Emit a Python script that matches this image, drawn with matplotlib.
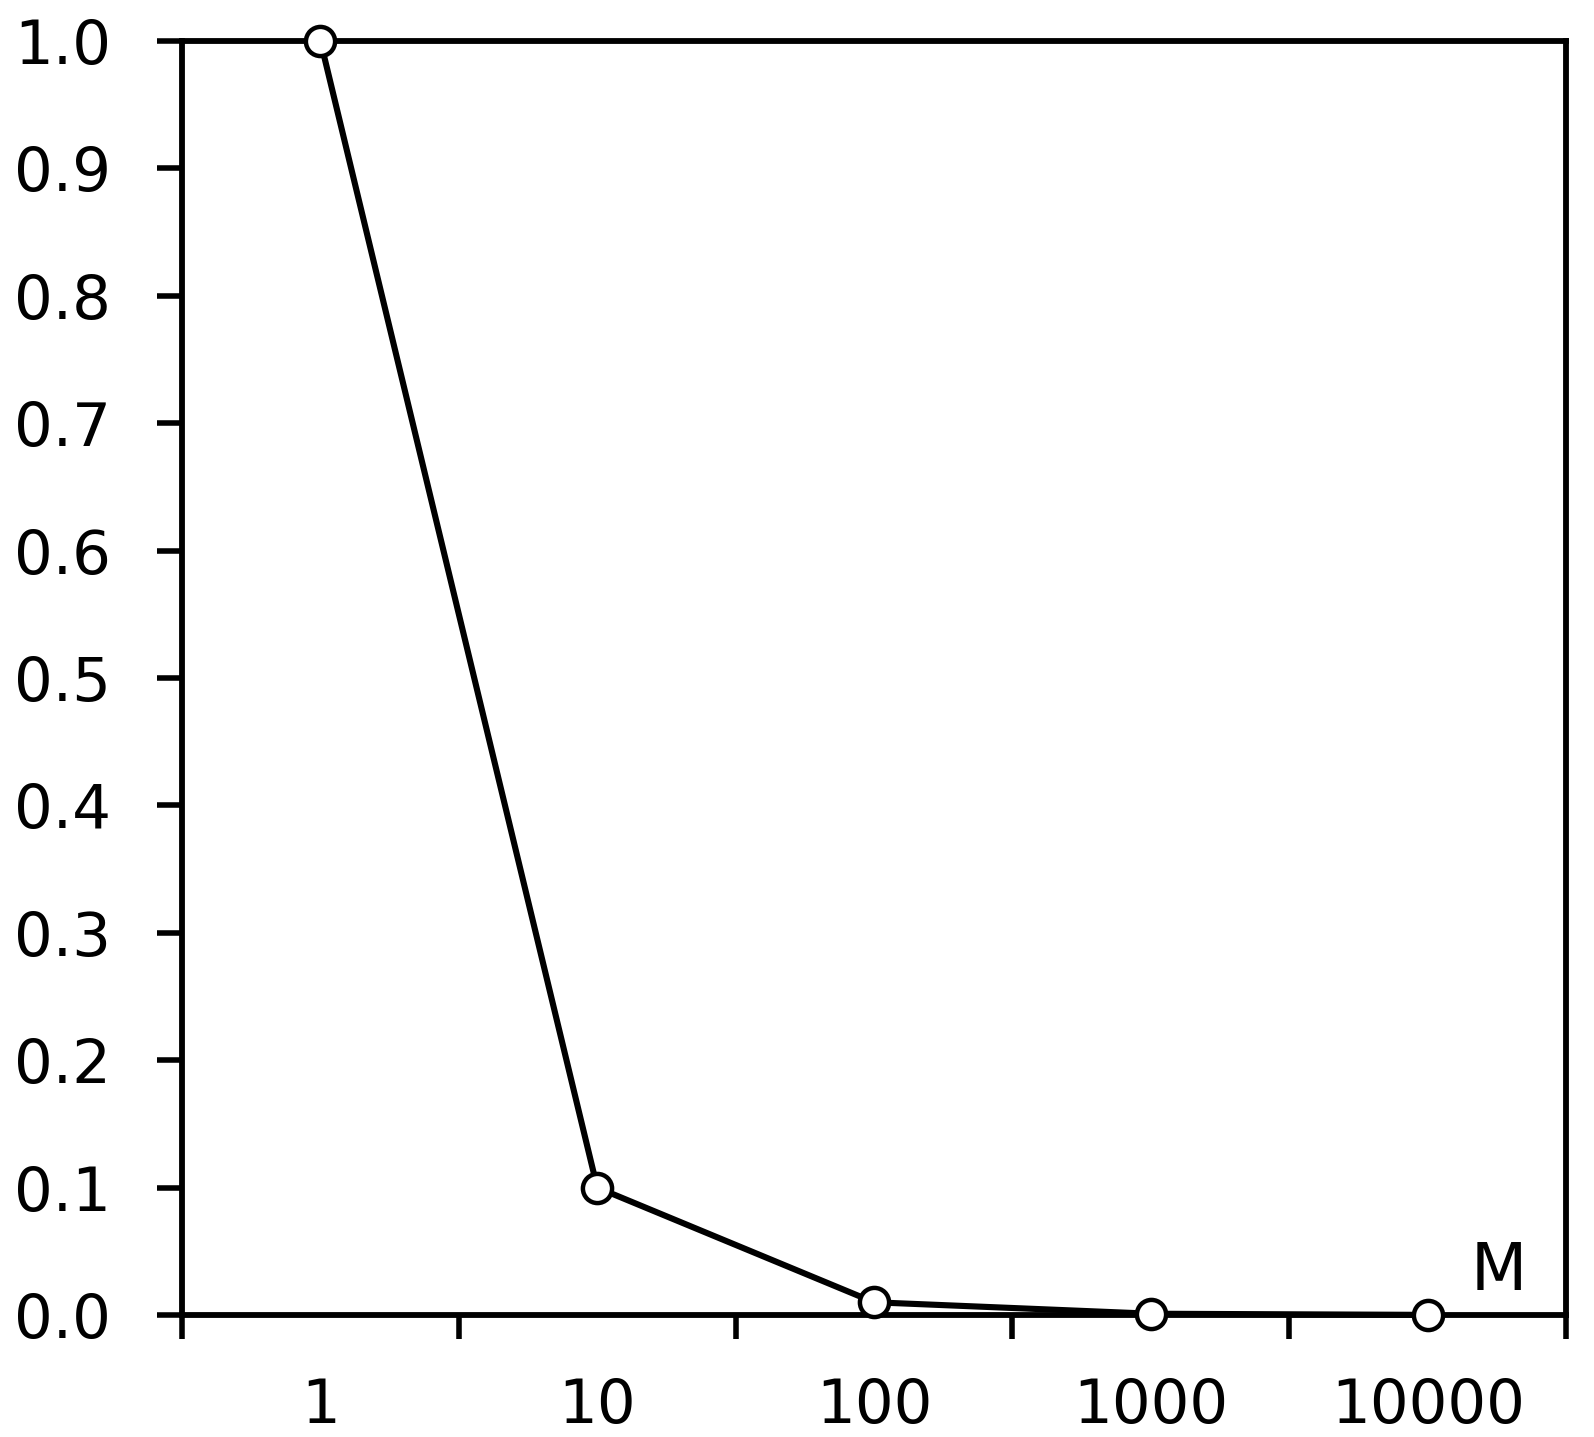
import numpy as np
from matplotlib import pyplot as plt
from matplotlib.ticker import FixedLocator, NullFormatter, FixedFormatter

##### Data #####
M_labels = ["1", "10", "100", "1000", "10000"]
values = [1.0, 0.1, 0.01, 0.001, 0.0001]
y_ticks = [0.0, 0.1, 0.2, 0.3, 0.4, 0.5, 0.6, 0.7, 0.8, 0.9, 1.0]

plt.rcParams['font.family'] = ['DejaVu Sans']

fig = plt.figure(figsize=(15.94, 14.37), dpi=100)
ax = fig.add_axes([0.1142, 0.0849, 0.9825 - 0.1142, 0.9715 - 0.0849])

x = np.arange(len(M_labels))
ax.plot(x, values, color="black", lw=4.4, marker="o", ms=21,
        mfc="white", mec="black", mew=3.2, clip_on=False, zorder=5)

ax.set_xlim(-0.5, len(M_labels) - 0.5)
ax.set_ylim(0, 1.0)

# category boundaries as major ticks, labels on minor ticks
ax.xaxis.set_major_locator(FixedLocator(np.arange(-0.5, len(M_labels), 1.0)))
ax.xaxis.set_major_formatter(NullFormatter())
ax.xaxis.set_minor_locator(FixedLocator(x))
ax.xaxis.set_minor_formatter(FixedFormatter(M_labels))
ax.tick_params(axis="x", which="major", direction="out", length=17, width=4.0)
ax.tick_params(axis="x", which="minor", length=0, pad=45, labelsize=44)

ax.set_yticks(y_ticks)
ax.set_yticklabels([f"{v:.1f}" for v in y_ticks])
ax.tick_params(axis="y", direction="out", length=18, width=4.0, pad=33, labelsize=44)

for s in ax.spines.values():
    s.set_linewidth(4.2)

ax.text(0.972, 0.0196, "M", transform=ax.transAxes, ha="right", va="baseline", fontsize=47)

fig.savefig("out.png", dpi=100)
